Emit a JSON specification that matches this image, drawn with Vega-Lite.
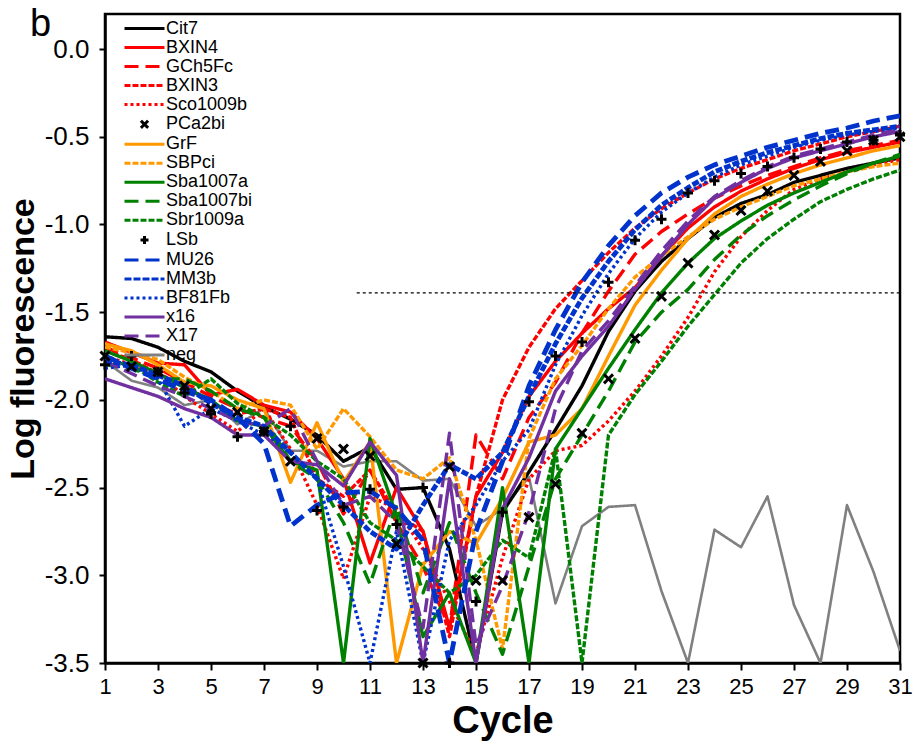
{
  "$schema": "https://vega.github.io/schema/vega-lite/v6.json",
  "width": 795,
  "height": 649,
  "autosize": {"type": "none"},
  "padding": {"left": 105, "top": 14, "right": 19, "bottom": 88},
  "background": "white",
  "config": {
    "font": "Liberation Sans",
    "view": {"stroke": "black", "strokeWidth": 2.5},
    "axis": {"grid": false, "domainColor": "black", "domainWidth": 2.5, "tickColor": "black", "tickWidth": 2, "labelColor": "black", "titleColor": "black", "labelFont": "Liberation Sans", "titleFont": "Liberation Sans"},
    "legend": {"title": null, "orient": "none", "legendX": 30, "legendY": 5, "symbolSize": 256, "symbolStrokeWidth": 3, "labelFontSize": 18, "labelFont": "Liberation Sans", "labelColor": "black", "labelOffset": 12, "rowPadding": -0.2, "padding": 0, "symbolOpacity": 1}
  },
  "title": {"text": "b", "anchor": "start", "frame": "group", "offset": 0, "dx": -75, "dy": 60, "fontSize": 38, "fontWeight": "normal", "baseline": "alphabetic", "font": "Liberation Sans", "color": "black"},
  "datasets": {
    "curves": [
      {"s":"Cit7","c":1,"v":-1.64},{"s":"Cit7","c":2,"v":-1.65},{"s":"Cit7","c":3,"v":-1.70},{"s":"Cit7","c":4,"v":-1.78},{"s":"Cit7","c":5,"v":-1.84},{"s":"Cit7","c":6,"v":-1.95},{"s":"Cit7","c":7,"v":-2.04},{"s":"Cit7","c":8,"v":-2.11},{"s":"Cit7","c":9,"v":-2.20},{"s":"Cit7","c":10,"v":-2.35},{"s":"Cit7","c":11,"v":-2.27},{"s":"Cit7","c":12,"v":-2.51},{"s":"Cit7","c":13,"v":-2.50},{"s":"Cit7","c":14,"v":-2.85},{"s":"Cit7","c":15,"v":-3.50},{"s":"Cit7","c":16,"v":-2.64},{"s":"Cit7","c":17,"v":-2.41},{"s":"Cit7","c":18,"v":-2.17},{"s":"Cit7","c":19,"v":-1.92},{"s":"Cit7","c":20,"v":-1.61},{"s":"Cit7","c":21,"v":-1.38},{"s":"Cit7","c":22,"v":-1.21},{"s":"Cit7","c":23,"v":-1.08},{"s":"Cit7","c":24,"v":-0.96},{"s":"Cit7","c":25,"v":-0.88},{"s":"Cit7","c":26,"v":-0.83},{"s":"Cit7","c":27,"v":-0.76},{"s":"Cit7","c":28,"v":-0.72},{"s":"Cit7","c":29,"v":-0.68},{"s":"Cit7","c":30,"v":-0.65},{"s":"Cit7","c":31,"v":-0.62},
      {"s":"BXIN4","c":1,"v":-1.67},{"s":"BXIN4","c":2,"v":-1.73},{"s":"BXIN4","c":3,"v":-1.79},{"s":"BXIN4","c":4,"v":-1.80},{"s":"BXIN4","c":5,"v":-1.97},{"s":"BXIN4","c":6,"v":-1.94},{"s":"BXIN4","c":7,"v":-2.03},{"s":"BXIN4","c":8,"v":-2.07},{"s":"BXIN4","c":9,"v":-2.22},{"s":"BXIN4","c":10,"v":-2.45},{"s":"BXIN4","c":11,"v":-2.93},{"s":"BXIN4","c":12,"v":-2.50},{"s":"BXIN4","c":13,"v":-2.75},{"s":"BXIN4","c":14,"v":-3.30},{"s":"BXIN4","c":15,"v":-2.55},{"s":"BXIN4","c":16,"v":-2.30},{"s":"BXIN4","c":17,"v":-1.98},{"s":"BXIN4","c":18,"v":-1.78},{"s":"BXIN4","c":19,"v":-1.62},{"s":"BXIN4","c":20,"v":-1.48},{"s":"BXIN4","c":21,"v":-1.36},{"s":"BXIN4","c":22,"v":-1.18},{"s":"BXIN4","c":23,"v":-1.02},{"s":"BXIN4","c":24,"v":-0.90},{"s":"BXIN4","c":25,"v":-0.81},{"s":"BXIN4","c":26,"v":-0.74},{"s":"BXIN4","c":27,"v":-0.68},{"s":"BXIN4","c":28,"v":-0.63},{"s":"BXIN4","c":29,"v":-0.59},{"s":"BXIN4","c":30,"v":-0.56},{"s":"BXIN4","c":31,"v":-0.53},
      {"s":"GCh5Fc","c":1,"v":-1.70},{"s":"GCh5Fc","c":2,"v":-1.76},{"s":"GCh5Fc","c":3,"v":-1.82},{"s":"GCh5Fc","c":4,"v":-1.90},{"s":"GCh5Fc","c":5,"v":-1.98},{"s":"GCh5Fc","c":6,"v":-2.05},{"s":"GCh5Fc","c":7,"v":-2.10},{"s":"GCh5Fc","c":8,"v":-2.15},{"s":"GCh5Fc","c":9,"v":-2.35},{"s":"GCh5Fc","c":10,"v":-2.65},{"s":"GCh5Fc","c":11,"v":-2.40},{"s":"GCh5Fc","c":12,"v":-2.70},{"s":"GCh5Fc","c":13,"v":-2.95},{"s":"GCh5Fc","c":14,"v":-3.30},{"s":"GCh5Fc","c":15,"v":-2.20},{"s":"GCh5Fc","c":16,"v":-2.45},{"s":"GCh5Fc","c":17,"v":-2.10},{"s":"GCh5Fc","c":18,"v":-1.90},{"s":"GCh5Fc","c":19,"v":-1.62},{"s":"GCh5Fc","c":20,"v":-1.38},{"s":"GCh5Fc","c":21,"v":-1.17},{"s":"GCh5Fc","c":22,"v":-1.04},{"s":"GCh5Fc","c":23,"v":-0.94},{"s":"GCh5Fc","c":24,"v":-0.85},{"s":"GCh5Fc","c":25,"v":-0.78},{"s":"GCh5Fc","c":26,"v":-0.72},{"s":"GCh5Fc","c":27,"v":-0.67},{"s":"GCh5Fc","c":28,"v":-0.62},{"s":"GCh5Fc","c":29,"v":-0.58},{"s":"GCh5Fc","c":30,"v":-0.55},{"s":"GCh5Fc","c":31,"v":-0.52},
      {"s":"BXIN3","c":1,"v":-1.72},{"s":"BXIN3","c":2,"v":-1.77},{"s":"BXIN3","c":3,"v":-1.85},{"s":"BXIN3","c":4,"v":-1.92},{"s":"BXIN3","c":5,"v":-2.02},{"s":"BXIN3","c":6,"v":-2.08},{"s":"BXIN3","c":7,"v":-2.05},{"s":"BXIN3","c":8,"v":-2.10},{"s":"BXIN3","c":9,"v":-2.45},{"s":"BXIN3","c":10,"v":-2.55},{"s":"BXIN3","c":11,"v":-2.40},{"s":"BXIN3","c":12,"v":-2.65},{"s":"BXIN3","c":13,"v":-2.75},{"s":"BXIN3","c":14,"v":-3.35},{"s":"BXIN3","c":15,"v":-2.55},{"s":"BXIN3","c":16,"v":-2.00},{"s":"BXIN3","c":17,"v":-1.70},{"s":"BXIN3","c":18,"v":-1.48},{"s":"BXIN3","c":19,"v":-1.32},{"s":"BXIN3","c":20,"v":-1.16},{"s":"BXIN3","c":21,"v":-1.02},{"s":"BXIN3","c":22,"v":-0.91},{"s":"BXIN3","c":23,"v":-0.82},{"s":"BXIN3","c":24,"v":-0.74},{"s":"BXIN3","c":25,"v":-0.68},{"s":"BXIN3","c":26,"v":-0.63},{"s":"BXIN3","c":27,"v":-0.58},{"s":"BXIN3","c":28,"v":-0.54},{"s":"BXIN3","c":29,"v":-0.50},{"s":"BXIN3","c":30,"v":-0.47},{"s":"BXIN3","c":31,"v":-0.44},
      {"s":"Sco1009b","c":1,"v":-1.75},{"s":"Sco1009b","c":2,"v":-1.80},{"s":"Sco1009b","c":3,"v":-1.85},{"s":"Sco1009b","c":4,"v":-1.98},{"s":"Sco1009b","c":5,"v":-2.08},{"s":"Sco1009b","c":6,"v":-2.18},{"s":"Sco1009b","c":7,"v":-2.05},{"s":"Sco1009b","c":8,"v":-2.28},{"s":"Sco1009b","c":9,"v":-2.60},{"s":"Sco1009b","c":10,"v":-3.02},{"s":"Sco1009b","c":11,"v":-2.55},{"s":"Sco1009b","c":12,"v":-2.62},{"s":"Sco1009b","c":13,"v":-2.85},{"s":"Sco1009b","c":14,"v":-3.15},{"s":"Sco1009b","c":15,"v":-3.45},{"s":"Sco1009b","c":16,"v":-2.90},{"s":"Sco1009b","c":17,"v":-2.45},{"s":"Sco1009b","c":18,"v":-2.29},{"s":"Sco1009b","c":19,"v":-2.26},{"s":"Sco1009b","c":20,"v":-2.12},{"s":"Sco1009b","c":21,"v":-1.95},{"s":"Sco1009b","c":22,"v":-1.75},{"s":"Sco1009b","c":23,"v":-1.53},{"s":"Sco1009b","c":24,"v":-1.27},{"s":"Sco1009b","c":25,"v":-1.07},{"s":"Sco1009b","c":26,"v":-0.92},{"s":"Sco1009b","c":27,"v":-0.80},{"s":"Sco1009b","c":28,"v":-0.74},{"s":"Sco1009b","c":29,"v":-0.70},{"s":"Sco1009b","c":30,"v":-0.66},{"s":"Sco1009b","c":31,"v":-0.63},
      {"s":"PCa2bi","c":1,"v":-1.75},{"s":"PCa2bi","c":2,"v":-1.81},{"s":"PCa2bi","c":3,"v":-1.84},{"s":"PCa2bi","c":4,"v":-1.92},{"s":"PCa2bi","c":5,"v":-2.05},{"s":"PCa2bi","c":6,"v":-2.07},{"s":"PCa2bi","c":7,"v":-2.18},{"s":"PCa2bi","c":8,"v":-2.35},{"s":"PCa2bi","c":9,"v":-2.22},{"s":"PCa2bi","c":10,"v":-2.28},{"s":"PCa2bi","c":11,"v":-2.32},{"s":"PCa2bi","c":12,"v":-2.82},{"s":"PCa2bi","c":13,"v":-3.50},{"s":"PCa2bi","c":14,"v":-2.38},{"s":"PCa2bi","c":15,"v":-3.03},{"s":"PCa2bi","c":16,"v":-3.03},{"s":"PCa2bi","c":17,"v":-2.67},{"s":"PCa2bi","c":18,"v":-2.48},{"s":"PCa2bi","c":19,"v":-2.19},{"s":"PCa2bi","c":20,"v":-1.88},{"s":"PCa2bi","c":21,"v":-1.65},{"s":"PCa2bi","c":22,"v":-1.41},{"s":"PCa2bi","c":23,"v":-1.22},{"s":"PCa2bi","c":24,"v":-1.06},{"s":"PCa2bi","c":25,"v":-0.92},{"s":"PCa2bi","c":26,"v":-0.81},{"s":"PCa2bi","c":27,"v":-0.72},{"s":"PCa2bi","c":28,"v":-0.64},{"s":"PCa2bi","c":29,"v":-0.58},{"s":"PCa2bi","c":30,"v":-0.52},{"s":"PCa2bi","c":31,"v":-0.50},
      {"s":"GrF","c":1,"v":-1.68},{"s":"GrF","c":2,"v":-1.72},{"s":"GrF","c":3,"v":-1.80},{"s":"GrF","c":4,"v":-1.90},{"s":"GrF","c":5,"v":-1.92},{"s":"GrF","c":6,"v":-2.00},{"s":"GrF","c":7,"v":-2.05},{"s":"GrF","c":8,"v":-2.47},{"s":"GrF","c":9,"v":-2.13},{"s":"GrF","c":10,"v":-2.47},{"s":"GrF","c":11,"v":-2.24},{"s":"GrF","c":12,"v":-3.50},{"s":"GrF","c":13,"v":-2.94},{"s":"GrF","c":14,"v":-2.75},{"s":"GrF","c":15,"v":-2.82},{"s":"GrF","c":16,"v":-2.56},{"s":"GrF","c":17,"v":-2.24},{"s":"GrF","c":18,"v":-2.20},{"s":"GrF","c":19,"v":-2.05},{"s":"GrF","c":20,"v":-1.75},{"s":"GrF","c":21,"v":-1.46},{"s":"GrF","c":22,"v":-1.26},{"s":"GrF","c":23,"v":-1.08},{"s":"GrF","c":24,"v":-0.94},{"s":"GrF","c":25,"v":-0.84},{"s":"GrF","c":26,"v":-0.77},{"s":"GrF","c":27,"v":-0.71},{"s":"GrF","c":28,"v":-0.66},{"s":"GrF","c":29,"v":-0.62},{"s":"GrF","c":30,"v":-0.58},{"s":"GrF","c":31,"v":-0.55},
      {"s":"SBPci","c":1,"v":-1.70},{"s":"SBPci","c":2,"v":-1.73},{"s":"SBPci","c":3,"v":-1.77},{"s":"SBPci","c":4,"v":-1.87},{"s":"SBPci","c":5,"v":-1.95},{"s":"SBPci","c":6,"v":-2.05},{"s":"SBPci","c":7,"v":-2.00},{"s":"SBPci","c":8,"v":-2.03},{"s":"SBPci","c":9,"v":-2.28},{"s":"SBPci","c":10,"v":-2.05},{"s":"SBPci","c":11,"v":-2.21},{"s":"SBPci","c":12,"v":-2.40},{"s":"SBPci","c":13,"v":-2.45},{"s":"SBPci","c":14,"v":-2.33},{"s":"SBPci","c":15,"v":-2.80},{"s":"SBPci","c":16,"v":-3.42},{"s":"SBPci","c":17,"v":-2.22},{"s":"SBPci","c":18,"v":-1.88},{"s":"SBPci","c":19,"v":-1.69},{"s":"SBPci","c":20,"v":-1.48},{"s":"SBPci","c":21,"v":-1.30},{"s":"SBPci","c":22,"v":-1.18},{"s":"SBPci","c":23,"v":-1.07},{"s":"SBPci","c":24,"v":-0.97},{"s":"SBPci","c":25,"v":-0.90},{"s":"SBPci","c":26,"v":-0.84},{"s":"SBPci","c":27,"v":-0.78},{"s":"SBPci","c":28,"v":-0.74},{"s":"SBPci","c":29,"v":-0.70},{"s":"SBPci","c":30,"v":-0.67},{"s":"SBPci","c":31,"v":-0.65},
      {"s":"Sba1007a","c":1,"v":-1.72},{"s":"Sba1007a","c":2,"v":-1.78},{"s":"Sba1007a","c":3,"v":-1.85},{"s":"Sba1007a","c":4,"v":-1.93},{"s":"Sba1007a","c":5,"v":-2.00},{"s":"Sba1007a","c":6,"v":-2.12},{"s":"Sba1007a","c":7,"v":-2.15},{"s":"Sba1007a","c":8,"v":-2.35},{"s":"Sba1007a","c":9,"v":-2.40},{"s":"Sba1007a","c":10,"v":-3.50},{"s":"Sba1007a","c":11,"v":-2.22},{"s":"Sba1007a","c":12,"v":-2.66},{"s":"Sba1007a","c":13,"v":-3.35},{"s":"Sba1007a","c":14,"v":-3.10},{"s":"Sba1007a","c":15,"v":-3.50},{"s":"Sba1007a","c":16,"v":-2.50},{"s":"Sba1007a","c":17,"v":-3.50},{"s":"Sba1007a","c":18,"v":-2.28},{"s":"Sba1007a","c":19,"v":-2.05},{"s":"Sba1007a","c":20,"v":-1.82},{"s":"Sba1007a","c":21,"v":-1.60},{"s":"Sba1007a","c":22,"v":-1.39},{"s":"Sba1007a","c":23,"v":-1.22},{"s":"Sba1007a","c":24,"v":-1.08},{"s":"Sba1007a","c":25,"v":-0.98},{"s":"Sba1007a","c":26,"v":-0.89},{"s":"Sba1007a","c":27,"v":-0.82},{"s":"Sba1007a","c":28,"v":-0.76},{"s":"Sba1007a","c":29,"v":-0.70},{"s":"Sba1007a","c":30,"v":-0.65},{"s":"Sba1007a","c":31,"v":-0.61},
      {"s":"Sba1007bi","c":1,"v":-1.80},{"s":"Sba1007bi","c":2,"v":-1.82},{"s":"Sba1007bi","c":3,"v":-1.88},{"s":"Sba1007bi","c":4,"v":-1.88},{"s":"Sba1007bi","c":5,"v":-1.95},{"s":"Sba1007bi","c":6,"v":-2.05},{"s":"Sba1007bi","c":7,"v":-2.10},{"s":"Sba1007bi","c":8,"v":-2.35},{"s":"Sba1007bi","c":9,"v":-2.45},{"s":"Sba1007bi","c":10,"v":-2.70},{"s":"Sba1007bi","c":11,"v":-3.05},{"s":"Sba1007bi","c":12,"v":-2.60},{"s":"Sba1007bi","c":13,"v":-3.10},{"s":"Sba1007bi","c":14,"v":-2.70},{"s":"Sba1007bi","c":15,"v":-3.10},{"s":"Sba1007bi","c":16,"v":-3.45},{"s":"Sba1007bi","c":17,"v":-2.95},{"s":"Sba1007bi","c":18,"v":-2.45},{"s":"Sba1007bi","c":19,"v":-2.20},{"s":"Sba1007bi","c":20,"v":-1.95},{"s":"Sba1007bi","c":21,"v":-1.67},{"s":"Sba1007bi","c":22,"v":-1.50},{"s":"Sba1007bi","c":23,"v":-1.37},{"s":"Sba1007bi","c":24,"v":-1.20},{"s":"Sba1007bi","c":25,"v":-1.06},{"s":"Sba1007bi","c":26,"v":-0.95},{"s":"Sba1007bi","c":27,"v":-0.86},{"s":"Sba1007bi","c":28,"v":-0.78},{"s":"Sba1007bi","c":29,"v":-0.71},{"s":"Sba1007bi","c":30,"v":-0.65},{"s":"Sba1007bi","c":31,"v":-0.60},
      {"s":"Sbr1009a","c":1,"v":-1.78},{"s":"Sbr1009a","c":2,"v":-1.80},{"s":"Sbr1009a","c":3,"v":-1.90},{"s":"Sbr1009a","c":4,"v":-1.98},{"s":"Sbr1009a","c":5,"v":-1.88},{"s":"Sbr1009a","c":6,"v":-2.02},{"s":"Sbr1009a","c":7,"v":-2.10},{"s":"Sbr1009a","c":8,"v":-2.20},{"s":"Sbr1009a","c":9,"v":-2.35},{"s":"Sbr1009a","c":10,"v":-2.45},{"s":"Sbr1009a","c":11,"v":-2.70},{"s":"Sbr1009a","c":12,"v":-2.80},{"s":"Sbr1009a","c":13,"v":-2.95},{"s":"Sbr1009a","c":14,"v":-3.10},{"s":"Sbr1009a","c":15,"v":-3.00},{"s":"Sbr1009a","c":16,"v":-2.80},{"s":"Sbr1009a","c":17,"v":-2.90},{"s":"Sbr1009a","c":18,"v":-2.28},{"s":"Sbr1009a","c":19,"v":-3.50},{"s":"Sbr1009a","c":20,"v":-2.20},{"s":"Sbr1009a","c":21,"v":-1.97},{"s":"Sbr1009a","c":22,"v":-1.78},{"s":"Sbr1009a","c":23,"v":-1.58},{"s":"Sbr1009a","c":24,"v":-1.40},{"s":"Sbr1009a","c":25,"v":-1.22},{"s":"Sbr1009a","c":26,"v":-1.08},{"s":"Sbr1009a","c":27,"v":-0.97},{"s":"Sbr1009a","c":28,"v":-0.87},{"s":"Sbr1009a","c":29,"v":-0.80},{"s":"Sbr1009a","c":30,"v":-0.74},{"s":"Sbr1009a","c":31,"v":-0.69},
      {"s":"LSb","c":1,"v":-1.80},{"s":"LSb","c":2,"v":-1.75},{"s":"LSb","c":3,"v":-1.84},{"s":"LSb","c":4,"v":-1.96},{"s":"LSb","c":5,"v":-2.08},{"s":"LSb","c":6,"v":-2.21},{"s":"LSb","c":7,"v":-2.18},{"s":"LSb","c":8,"v":-2.15},{"s":"LSb","c":9,"v":-2.63},{"s":"LSb","c":10,"v":-2.61},{"s":"LSb","c":11,"v":-2.51},{"s":"LSb","c":12,"v":-2.71},{"s":"LSb","c":13,"v":-2.50},{"s":"LSb","c":14,"v":-3.50},{"s":"LSb","c":15,"v":-3.15},{"s":"LSb","c":16,"v":-2.64},{"s":"LSb","c":17,"v":-2.01},{"s":"LSb","c":18,"v":-1.75},{"s":"LSb","c":19,"v":-1.67},{"s":"LSb","c":20,"v":-1.33},{"s":"LSb","c":21,"v":-1.09},{"s":"LSb","c":22,"v":-0.97},{"s":"LSb","c":23,"v":-0.82},{"s":"LSb","c":24,"v":-0.75},{"s":"LSb","c":25,"v":-0.71},{"s":"LSb","c":26,"v":-0.67},{"s":"LSb","c":27,"v":-0.62},{"s":"LSb","c":28,"v":-0.57},{"s":"LSb","c":29,"v":-0.53},{"s":"LSb","c":30,"v":-0.52},{"s":"LSb","c":31,"v":-0.49},
      {"s":"MU26","c":1,"v":-1.75},{"s":"MU26","c":2,"v":-1.82},{"s":"MU26","c":3,"v":-1.88},{"s":"MU26","c":4,"v":-1.95},{"s":"MU26","c":5,"v":-2.00},{"s":"MU26","c":6,"v":-2.10},{"s":"MU26","c":7,"v":-2.25},{"s":"MU26","c":8,"v":-2.72},{"s":"MU26","c":9,"v":-2.60},{"s":"MU26","c":10,"v":-2.53},{"s":"MU26","c":11,"v":-2.52},{"s":"MU26","c":12,"v":-2.62},{"s":"MU26","c":13,"v":-2.80},{"s":"MU26","c":14,"v":-3.50},{"s":"MU26","c":15,"v":-2.75},{"s":"MU26","c":16,"v":-2.35},{"s":"MU26","c":17,"v":-1.92},{"s":"MU26","c":18,"v":-1.60},{"s":"MU26","c":19,"v":-1.33},{"s":"MU26","c":20,"v":-1.12},{"s":"MU26","c":21,"v":-0.95},{"s":"MU26","c":22,"v":-0.82},{"s":"MU26","c":23,"v":-0.73},{"s":"MU26","c":24,"v":-0.66},{"s":"MU26","c":25,"v":-0.61},{"s":"MU26","c":26,"v":-0.56},{"s":"MU26","c":27,"v":-0.52},{"s":"MU26","c":28,"v":-0.48},{"s":"MU26","c":29,"v":-0.45},{"s":"MU26","c":30,"v":-0.41},{"s":"MU26","c":31,"v":-0.38},
      {"s":"MM3b","c":1,"v":-1.78},{"s":"MM3b","c":2,"v":-1.80},{"s":"MM3b","c":3,"v":-1.86},{"s":"MM3b","c":4,"v":-1.92},{"s":"MM3b","c":5,"v":-2.02},{"s":"MM3b","c":6,"v":-2.10},{"s":"MM3b","c":7,"v":-2.15},{"s":"MM3b","c":8,"v":-2.30},{"s":"MM3b","c":9,"v":-2.45},{"s":"MM3b","c":10,"v":-2.60},{"s":"MM3b","c":11,"v":-2.75},{"s":"MM3b","c":12,"v":-2.85},{"s":"MM3b","c":13,"v":-2.60},{"s":"MM3b","c":14,"v":-2.37},{"s":"MM3b","c":15,"v":-2.45},{"s":"MM3b","c":16,"v":-2.30},{"s":"MM3b","c":17,"v":-1.98},{"s":"MM3b","c":18,"v":-1.68},{"s":"MM3b","c":19,"v":-1.42},{"s":"MM3b","c":20,"v":-1.21},{"s":"MM3b","c":21,"v":-1.03},{"s":"MM3b","c":22,"v":-0.89},{"s":"MM3b","c":23,"v":-0.79},{"s":"MM3b","c":24,"v":-0.70},{"s":"MM3b","c":25,"v":-0.64},{"s":"MM3b","c":26,"v":-0.59},{"s":"MM3b","c":27,"v":-0.55},{"s":"MM3b","c":28,"v":-0.51},{"s":"MM3b","c":29,"v":-0.48},{"s":"MM3b","c":30,"v":-0.46},{"s":"MM3b","c":31,"v":-0.44},
      {"s":"BF81Fb","c":1,"v":-1.82},{"s":"BF81Fb","c":2,"v":-1.80},{"s":"BF81Fb","c":3,"v":-1.88},{"s":"BF81Fb","c":4,"v":-2.15},{"s":"BF81Fb","c":5,"v":-2.05},{"s":"BF81Fb","c":6,"v":-2.12},{"s":"BF81Fb","c":7,"v":-2.20},{"s":"BF81Fb","c":8,"v":-2.30},{"s":"BF81Fb","c":9,"v":-2.45},{"s":"BF81Fb","c":10,"v":-2.95},{"s":"BF81Fb","c":11,"v":-3.50},{"s":"BF81Fb","c":12,"v":-2.75},{"s":"BF81Fb","c":13,"v":-3.50},{"s":"BF81Fb","c":14,"v":-2.80},{"s":"BF81Fb","c":15,"v":-2.60},{"s":"BF81Fb","c":16,"v":-2.35},{"s":"BF81Fb","c":17,"v":-2.17},{"s":"BF81Fb","c":18,"v":-1.80},{"s":"BF81Fb","c":19,"v":-1.52},{"s":"BF81Fb","c":20,"v":-1.28},{"s":"BF81Fb","c":21,"v":-1.08},{"s":"BF81Fb","c":22,"v":-0.93},{"s":"BF81Fb","c":23,"v":-0.82},{"s":"BF81Fb","c":24,"v":-0.73},{"s":"BF81Fb","c":25,"v":-0.66},{"s":"BF81Fb","c":26,"v":-0.61},{"s":"BF81Fb","c":27,"v":-0.56},{"s":"BF81Fb","c":28,"v":-0.52},{"s":"BF81Fb","c":29,"v":-0.49},{"s":"BF81Fb","c":30,"v":-0.47},{"s":"BF81Fb","c":31,"v":-0.45},
      {"s":"x16","c":1,"v":-1.88},{"s":"x16","c":2,"v":-1.93},{"s":"x16","c":3,"v":-1.98},{"s":"x16","c":4,"v":-2.05},{"s":"x16","c":5,"v":-2.10},{"s":"x16","c":6,"v":-2.20},{"s":"x16","c":7,"v":-2.20},{"s":"x16","c":8,"v":-2.35},{"s":"x16","c":9,"v":-2.37},{"s":"x16","c":10,"v":-2.49},{"s":"x16","c":11,"v":-2.24},{"s":"x16","c":12,"v":-2.43},{"s":"x16","c":13,"v":-3.50},{"s":"x16","c":14,"v":-2.45},{"s":"x16","c":15,"v":-3.50},{"s":"x16","c":16,"v":-2.62},{"s":"x16","c":17,"v":-2.33},{"s":"x16","c":18,"v":-1.95},{"s":"x16","c":19,"v":-1.75},{"s":"x16","c":20,"v":-1.58},{"s":"x16","c":21,"v":-1.37},{"s":"x16","c":22,"v":-1.18},{"s":"x16","c":23,"v":-1.00},{"s":"x16","c":24,"v":-0.85},{"s":"x16","c":25,"v":-0.76},{"s":"x16","c":26,"v":-0.68},{"s":"x16","c":27,"v":-0.62},{"s":"x16","c":28,"v":-0.58},{"s":"x16","c":29,"v":-0.54},{"s":"x16","c":30,"v":-0.50},{"s":"x16","c":31,"v":-0.47},
      {"s":"X17","c":1,"v":-1.78},{"s":"X17","c":2,"v":-1.85},{"s":"X17","c":3,"v":-1.92},{"s":"X17","c":4,"v":-1.98},{"s":"X17","c":5,"v":-2.05},{"s":"X17","c":6,"v":-2.12},{"s":"X17","c":7,"v":-2.15},{"s":"X17","c":8,"v":-2.05},{"s":"X17","c":9,"v":-2.35},{"s":"X17","c":10,"v":-2.60},{"s":"X17","c":11,"v":-2.55},{"s":"X17","c":12,"v":-2.70},{"s":"X17","c":13,"v":-3.30},{"s":"X17","c":14,"v":-2.19},{"s":"X17","c":15,"v":-3.40},{"s":"X17","c":16,"v":-3.06},{"s":"X17","c":17,"v":-2.64},{"s":"X17","c":18,"v":-2.05},{"s":"X17","c":19,"v":-1.72},{"s":"X17","c":20,"v":-1.55},{"s":"X17","c":21,"v":-1.35},{"s":"X17","c":22,"v":-1.15},{"s":"X17","c":23,"v":-0.98},{"s":"X17","c":24,"v":-0.84},{"s":"X17","c":25,"v":-0.75},{"s":"X17","c":26,"v":-0.67},{"s":"X17","c":27,"v":-0.61},{"s":"X17","c":28,"v":-0.57},{"s":"X17","c":29,"v":-0.53},{"s":"X17","c":30,"v":-0.49},{"s":"X17","c":31,"v":-0.46},
      {"s":"neg","c":1,"v":-1.78},{"s":"neg","c":2,"v":-1.89},{"s":"neg","c":3,"v":-1.93},{"s":"neg","c":4,"v":-2.03},{"s":"neg","c":5,"v":-2.00},{"s":"neg","c":6,"v":-2.14},{"s":"neg","c":7,"v":-2.05},{"s":"neg","c":8,"v":-2.29},{"s":"neg","c":9,"v":-2.29},{"s":"neg","c":10,"v":-2.38},{"s":"neg","c":11,"v":-2.35},{"s":"neg","c":12,"v":-2.35},{"s":"neg","c":13,"v":-2.46},{"s":"neg","c":14,"v":-2.45},{"s":"neg","c":15,"v":-2.72},{"s":"neg","c":16,"v":-2.62},{"s":"neg","c":17,"v":-2.44},{"s":"neg","c":18,"v":-3.16},{"s":"neg","c":19,"v":-2.72},{"s":"neg","c":20,"v":-2.61},{"s":"neg","c":21,"v":-2.60},{"s":"neg","c":22,"v":-3.09},{"s":"neg","c":23,"v":-3.50},{"s":"neg","c":24,"v":-2.74},{"s":"neg","c":25,"v":-2.84},{"s":"neg","c":26,"v":-2.55},{"s":"neg","c":27,"v":-3.17},{"s":"neg","c":28,"v":-3.50},{"s":"neg","c":29,"v":-2.60},{"s":"neg","c":30,"v":-2.98},{"s":"neg","c":31,"v":-3.43}
    ],
    "thr": [{"x1": 10.5, "x2": 31, "y": -1.39}]
  },
  "layer": [
    {
      "data": {"name": "curves"},
      "transform": [{"filter": "datum.s === 'neg'"}],
      "mark": {"type": "line", "strokeWidth": 2.6, "strokeJoin": "round", "clip": true},
      "encoding": {
        "x": {"field": "c", "type": "quantitative", "scale": {"domain": [1, 31], "nice": false, "zero": false},
          "axis": {"title": "Cycle", "values": [1,2,3,4,5,6,7,8,9,10,11,12,13,14,15,16,17,18,19,20,21,22,23,24,25,26,27,28,29,30,31], "labelExpr": "datum.value % 2 === 1 ? datum.label : ''", "labelOverlap": false, "labelFlush": false, "tickSize": 7, "labelFontSize": 22, "labelPadding": 6, "titleFontSize": 38, "titleFontWeight": "bold", "titlePadding": 5}},
        "y": {"field": "v", "type": "quantitative", "scale": {"domain": [-3.5, 0.2], "nice": false, "zero": false},
          "axis": {"title": "Log fluorescence", "values": [-3.5,-3,-2.5,-2,-1.5,-1,-0.5,0], "labelExpr": "datum.value === 0 ? '0.0' : toString(datum.value) + (datum.value % 1 === 0 ? '.0' : '')", "tickSize": 6, "labelFontSize": 26, "labelPadding": 10, "titleFontSize": 34, "titleFontWeight": "bold", "titlePadding": 4}},
        "color": {"field": "s", "type": "nominal",
          "scale": {"domain": ["Cit7","BXIN4","GCh5Fc","BXIN3","Sco1009b","PCa2bi","GrF","SBPci","Sba1007a","Sba1007bi","Sbr1009a","LSb","MU26","MM3b","BF81Fb","x16","X17","neg"],
                    "range": ["#000000","#ff0000","#ff0000","#ff0000","#ff0000","#000000","#ff9900","#ff9900","#008000","#008000","#008000","#000000","#0033cc","#0033cc","#0033cc","#7030a0","#7030a0","#808080"]}},
        "strokeDash": {"field": "s", "type": "nominal",
          "scale": {"domain": ["Cit7","BXIN4","GCh5Fc","BXIN3","Sco1009b","PCa2bi","GrF","SBPci","Sba1007a","Sba1007bi","Sbr1009a","LSb","MU26","MM3b","BF81Fb","x16","X17","neg"],
                    "range": [[1,0],[1,0],[14,7],[6,2],[3,3],[1,0],[1,0],[6,2],[1,0],[14,7],[6,2],[1,0],[14,7],[7,2],[3,3],[1,0],[14,7],[1,0]]}}
      }
    },
    {
      "data": {"name": "curves"},
      "transform": [{"filter": "datum.s !== 'neg' && datum.s !== 'PCa2bi' && datum.s !== 'LSb' && datum.s !== 'MU26' && datum.s !== 'MM3b'"}],
      "mark": {"type": "line", "strokeWidth": 3.4, "strokeJoin": "round", "clip": true},
      "encoding": {
        "x": {"field": "c", "type": "quantitative"},
        "y": {"field": "v", "type": "quantitative"},
        "color": {"field": "s", "type": "nominal"},
        "strokeDash": {"field": "s", "type": "nominal"}
      }
    },
    {
      "data": {"name": "curves"},
      "transform": [{"filter": "datum.s === 'MU26' || datum.s === 'MM3b'"}],
      "mark": {"type": "line", "strokeWidth": 4.8, "strokeJoin": "round", "clip": true},
      "encoding": {
        "x": {"field": "c", "type": "quantitative"},
        "y": {"field": "v", "type": "quantitative"},
        "color": {"field": "s", "type": "nominal"},
        "strokeDash": {"field": "s", "type": "nominal"}
      }
    },
    {
      "data": {"name": "curves"},
      "transform": [{"filter": "datum.s === 'PCa2bi' || datum.s === 'LSb'"}],
      "mark": {"type": "point", "size": 400, "strokeWidth": 3, "filled": false, "opacity": 1},
      "encoding": {
        "x": {"field": "c", "type": "quantitative"},
        "y": {"field": "v", "type": "quantitative"},
        "color": {"field": "s", "type": "nominal"},
        "shape": {"field": "s", "type": "nominal",
          "scale": {"domain": ["Cit7","BXIN4","GCh5Fc","BXIN3","Sco1009b","PCa2bi","GrF","SBPci","Sba1007a","Sba1007bi","Sbr1009a","LSb","MU26","MM3b","BF81Fb","x16","X17","neg"],
                    "range": ["M-2.5,0L2.5,0","M-2.5,0L2.5,0","M-2.5,0L2.5,0","M-2.5,0L2.5,0","M-2.5,0L2.5,0","M-0.45,-0.45L0.45,0.45M-0.45,0.45L0.45,-0.45","M-2.5,0L2.5,0","M-2.5,0L2.5,0","M-2.5,0L2.5,0","M-2.5,0L2.5,0","M-2.5,0L2.5,0","M-0.5,0L0.5,0M0,-0.5L0,0.5","M-2.5,0L2.5,0","M-2.5,0L2.5,0","M-2.5,0L2.5,0","M-2.5,0L2.5,0","M-2.5,0L2.5,0","M-2.5,0L2.5,0"]}},
        "strokeDash": {"field": "s", "type": "nominal"}
      }
    },
    {
      "data": {"name": "thr"},
      "mark": {"type": "rule", "color": "black", "strokeWidth": 1.3, "strokeDash": [3, 3]},
      "encoding": {
        "x": {"field": "x1", "type": "quantitative"},
        "x2": {"field": "x2"},
        "y": {"field": "y", "type": "quantitative"}
      }
    }
  ]
}
